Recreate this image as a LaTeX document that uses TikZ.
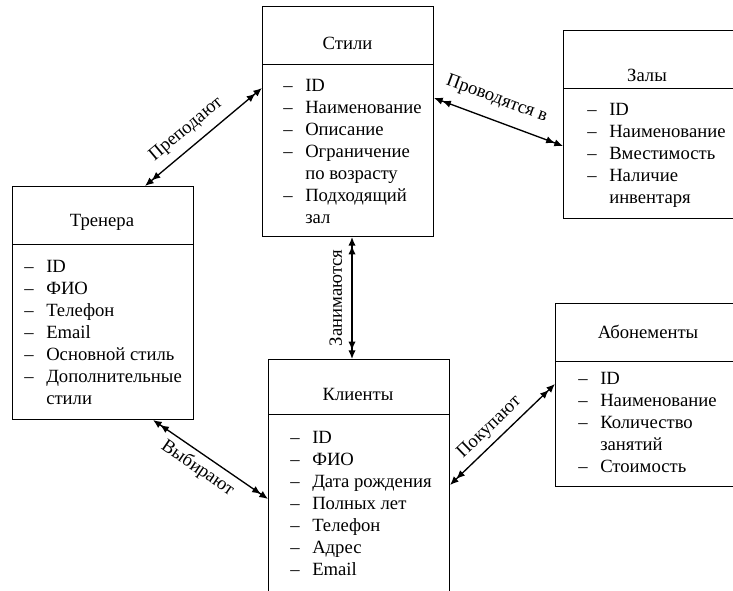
\documentclass[tikz,border=0pt]{standalone}
\usepackage{fontspec}
\setmainfont{Liberation Serif}
\newfontfamily\tnr{Liberation Serif}
\usetikzlibrary{arrows.meta}
\newcommand{\entlist}[1]{\begin{tabular}[t]{@{}p{16.5pt}@{}l@{}}#1\end{tabular}}
\begin{document}
\begin{tikzpicture}[x=0.75pt,y=-0.75pt,
  every node/.style={font=\tnr\fontsize{14}{16.5}\selectfont},
  ent/.style={draw, line width=0.75pt, inner sep=0pt, anchor=north west},
  ttl/.style={inner sep=0pt, anchor=center},
  lst/.style={inner sep=0pt, anchor=base west},
  rel/.style={line width=1pt, <<->>, >={Latex[length=6.5pt,width=5.5pt]}},
  lbl/.style={inner sep=0pt, sloped}]
\useasboundingbox (0,0) rectangle (733,591);
\clip (0,0) rectangle (733,591);
% entities
\node[ent, minimum width=128.25pt, minimum height=172.5pt] (stili) at (262,6) {};
\node[ent, minimum width=129.75pt, minimum height=141pt] (zaly) at (563,30) {};
\node[ent, minimum width=135.75pt, minimum height=174.75pt] (trenera) at (12,186) {};
\node[ent, minimum width=135.75pt, minimum height=188.25pt] (klienty) at (268,359) {};
\node[ent, minimum width=139.5pt, minimum height=137.25pt] (abon) at (555,303) {};
% header lines
\draw[line width=0.75pt] (stili.west |- 0,65) -- (stili.east |- 0,65);
\draw[line width=0.75pt] (zaly.west |- 0,89) -- (zaly.east |- 0,89);
\draw[line width=0.75pt] (trenera.west |- 0,245) -- (trenera.east |- 0,245);
\draw[line width=0.75pt] (klienty.west |- 0,415) -- (klienty.east |- 0,415);
\draw[line width=0.75pt] (abon.west |- 0,362) -- (abon.east |- 0,362);
% titles
\node[ttl] (stiliT) at (347.5,43) {Стили};
\node[ttl] (zalyT) at (647,75) {Залы};
\node[ttl] (trenT) at (102,222) {Тренера};
\node[ttl] (kliT) at (358,394) {Клиенты};
\node[ttl] (abonT) at (648,332) {Абонементы};
% lists
\node[lst] (stiliL) at (283,92) {\entlist{– & ID\\ – & Наименование\\ – & Описание\\ – & Ограничение\\ & по возрасту\\ – & Подходящий\\ & зал}};
\node[lst] (zalyL) at (587,116) {\entlist{– & ID\\ – & Наименование\\ – & Вместимость\\ – & Наличие\\ & инвентаря}};
\node[lst] (trenL) at (24,273) {\entlist{– & ID\\ – & ФИО\\ – & Телефон\\ – & Email\\ – & Основной стиль\\ – & Дополнительные\\ & стили}};
\node[lst] (kliL) at (290,444) {\entlist{– & ID\\ – & ФИО\\ – & Дата рождения\\ – & Полных лет\\ – & Телефон\\ – & Адрес\\ – & Email}};
\node[lst] (abonL) at (578,385) {\entlist{– & ID\\ – & Наименование\\ – & Количество\\ & занятий\\ – & Стоимость}};
% relations
\draw[rel] (trenera.north -| 145,0) -- node[lbl, pos=0.445, above, inner sep=6pt] {Преподают} (stili.west |- 0,88);
\draw[rel] (stili.east |- 0,98) -- node[lbl, pos=0.43, above, inner sep=9pt] {Проводятся в} (zaly.west |- 0,146);
\draw[rel] (klienty.north -| 352,0) -- node[lbl, pos=0.5, above, inner sep=7pt] {Занимаются} (stili.south -| 352,0);
\draw[rel] (trenera.south -| 153,0) -- node[lbl, pos=0.46, below, inner sep=4pt] {Выбирают} (klienty.west |- 0,499);
\draw[rel] (klienty.east |- 0,485) -- node[lbl, pos=0.47, above, inner sep=4pt] {Покупают} (abon.west |- 0,384);
\end{tikzpicture}
\end{document}
